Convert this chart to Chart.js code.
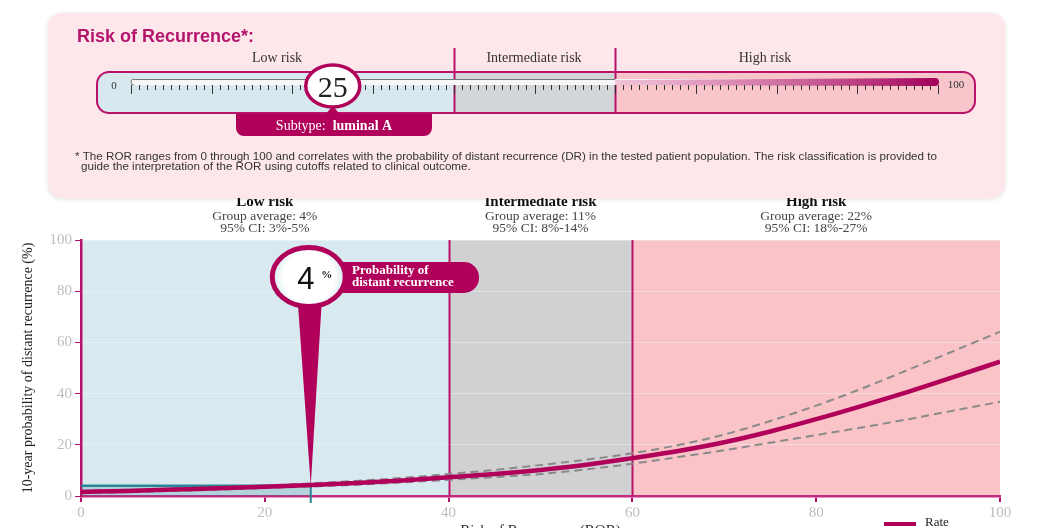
<!DOCTYPE html>
<html>
<head>
<meta charset="utf-8">
<script src="https://cdn.jsdelivr.net/npm/chart.js@4.4.1/dist/chart.umd.min.js"></script>
<style>
  html, body { margin: 0; padding: 0; background: #ffffff; }
  #wrap { width: 1041px; height: 528px; position: relative; }
</style>
</head>
<body>
<div id="wrap"><canvas id="c" width="1041" height="528"></canvas></div>
<script>
// ---------- data ----------
const rorGrid    = [0, 5, 10, 15, 20, 25, 30, 35, 40, 45, 50, 55, 60, 65, 70, 75, 80, 85, 90, 95, 100];
const rateValues = [1.6, 2.0, 2.5, 3.0, 3.6, 4.3, 5.1, 6.1, 7.3, 8.6, 10.2, 12.2, 14.8, 17.6, 21.0, 25.2, 30.0, 35.2, 40.7, 46.5, 52.5];
const upperCI    = [2.0, 2.4, 2.9, 3.4, 4.1, 4.9, 5.9, 7.1, 8.6, 10.2, 12.1, 14.2, 16.7, 19.9, 24.0, 29.3, 35.3, 42.0, 49.3, 56.7, 64.2];
const lowerCI    = [1.1, 1.5, 2.0, 2.5, 3.1, 3.7, 4.4, 5.3, 6.3, 7.4, 8.6, 10.4, 12.6, 15.2, 17.9, 20.8, 23.8, 26.8, 30.0, 33.4, 36.8];
const riskCutoffs = [0, 40, 60, 100];
const riskGroups  = ['Low risk', 'Intermediate risk', 'High risk'];
const groupAverages = ['Group average: 4%', 'Group average: 11%', 'Group average: 22%'];
const groupCIs      = ['95% CI: 3%-5%', '95% CI: 8%-14%', '95% CI: 18%-27%'];
const xTicks = [0, 20, 40, 60, 80, 100];
const yTicks = [0, 20, 40, 60, 80, 100];
const patientROR  = 25;
const patientProb = 4;
const subtypeName = 'luminal A';
const seriesName  = 'Rate';

// ---------- styles ----------
const MAG = '#b0005a';
const FRAME = '#b8126a';
const regionFill = ['#d9e9f0', '#d1d1d3', '#f9c3c7'];
const rulerFill  = ['#d7e8ee', '#d3d6d9', '#f8c5ca'];
const SERIF = '"Liberation Serif", "DejaVu Serif", serif';
const SANS  = '"Liberation Sans", Arial, sans-serif';

function pts(vals) { return rorGrid.map((x, i) => ({ x: x, y: vals[i] })); }

function rr(ctx, x, y, w, h, r) {
  ctx.beginPath();
  ctx.moveTo(x + r, y);
  ctx.lineTo(x + w - r, y);
  ctx.arcTo(x + w, y, x + w, y + r, r);
  ctx.lineTo(x + w, y + h - r);
  ctx.arcTo(x + w, y + h, x + w - r, y + h, r);
  ctx.lineTo(x + r, y + h);
  ctx.arcTo(x, y + h, x, y + h - r, r);
  ctx.lineTo(x, y + r);
  ctx.arcTo(x, y, x + r, y, r);
  ctx.closePath();
}

const decor = {
  id: 'decor',
  beforeDraw(chart) {
    const { ctx, chartArea: a, scales: { x, y } } = chart;
    ctx.save();
    for (let i = 0; i < riskGroups.length; i++) {
      const x0 = x.getPixelForValue(riskCutoffs[i]);
      const x1 = x.getPixelForValue(riskCutoffs[i + 1]);
      ctx.fillStyle = regionFill[i];
      ctx.fillRect(x0, a.top, x1 - x0, a.bottom - a.top);
      const cx = (x0 + x1) / 2;
      ctx.textAlign = 'center';
      ctx.textBaseline = 'middle';
      ctx.fillStyle = '#111';
      ctx.font = 'bold 15px ' + SERIF;
      ctx.fillText(riskGroups[i], cx, 202);
      ctx.fillStyle = '#444';
      ctx.font = '13.5px ' + SERIF;
      ctx.fillText(groupAverages[i], cx, 216);
      ctx.fillText(groupCIs[i], cx, 228);
    }
    ctx.restore();
  },
  beforeDatasetsDraw(chart) {
    const { ctx, chartArea: a, scales: { x, y } } = chart;
    ctx.save();
    ctx.strokeStyle = FRAME;
    ctx.lineWidth = 2;
    [riskCutoffs[1], riskCutoffs[2]].forEach(v => {
      const px = Math.round(x.getPixelForValue(v)) + 0.5;
      ctx.beginPath(); ctx.moveTo(px, a.top); ctx.lineTo(px, a.bottom); ctx.stroke();
    });
    const px = x.getPixelForValue(patientROR);
    const py = y.getPixelForValue(patientProb);
    ctx.fillStyle = 'rgba(40,130,150,0.22)';
    ctx.fillRect(a.left, py, px - a.left, a.bottom - py);
    ctx.strokeStyle = '#2a8596';
    ctx.lineWidth = 2.5;
    ctx.beginPath(); ctx.moveTo(a.left, py); ctx.lineTo(px, py); ctx.stroke();
    ctx.lineWidth = 2;
    ctx.beginPath(); ctx.moveTo(px, py); ctx.lineTo(px, a.bottom + 7); ctx.stroke();
    ctx.restore();
  },
  afterDatasetsDraw(chart) {
    const { ctx, chartArea: a, scales: { x, y } } = chart;
    const tipX = x.getPixelForValue(patientROR);
    const tipY = y.getPixelForValue(patientProb);
    const cx = tipX - 2, cy = 277, rx = 39, ry = 32;
    ctx.save();
    ctx.fillStyle = MAG;
    rr(ctx, cx + 20, 262, 479 - (cx + 20), 31, 15);
    ctx.fill();
    ctx.fillStyle = '#ffffff';
    ctx.font = 'bold 13px ' + SERIF;
    ctx.textAlign = 'left';
    ctx.textBaseline = 'middle';
    ctx.fillText('Probability of', 352, 271);
    ctx.fillText('distant recurrence', 352, 283);
    ctx.fillStyle = MAG;
    ctx.beginPath();
    ctx.moveTo(cx - 11, cy + 24);
    ctx.lineTo(cx + 13, cy + 24);
    ctx.lineTo(tipX, tipY);
    ctx.closePath();
    ctx.fill();
    const g = ctx.createRadialGradient(cx, cy, 5, cx, cy, rx);
    g.addColorStop(0, '#ffffff');
    g.addColorStop(0.6, '#ffffff');
    g.addColorStop(1, '#c9e2ea');
    ctx.beginPath();
    ctx.ellipse(cx, cy, rx - 2.5, ry - 2.5, 0, 0, Math.PI * 2);
    ctx.fillStyle = g;
    ctx.fill();
    ctx.lineWidth = 5;
    ctx.strokeStyle = MAG;
    ctx.stroke();
    ctx.fillStyle = '#111';
    ctx.font = '31px ' + SANS;
    ctx.textAlign = 'center';
    ctx.textBaseline = 'alphabetic';
    ctx.fillText(String(patientProb), cx - 3, cy + 12);
    ctx.font = 'bold 11px ' + SERIF;
    ctx.fillText('%', cx + 18, cy + 1);
    ctx.restore();
  },
  afterDraw(chart) {
    const { ctx, chartArea: a, scales: { x } } = chart;
    ctx.save();
    ctx.fillStyle = '#333';
    ctx.font = '15px ' + SERIF;
    ctx.textAlign = 'center';
    ctx.textBaseline = 'top';
    ctx.fillText('Risk of Recurrence (ROR)', (a.left + a.right) / 2, 524);
    ctx.strokeStyle = MAG;
    ctx.lineWidth = 4;
    ctx.beginPath(); ctx.moveTo(884, 524); ctx.lineTo(916, 524); ctx.stroke();
    ctx.fillStyle = '#222';
    ctx.font = '13px ' + SERIF;
    ctx.textAlign = 'left';
    ctx.textBaseline = 'middle';
    ctx.fillText(seriesName, 925, 523);

    // ---------- top panel ----------
    ctx.shadowColor = 'rgba(0,0,0,0.12)';
    ctx.shadowBlur = 5;
    ctx.shadowOffsetY = 1;
    ctx.fillStyle = '#fde7ea';
    rr(ctx, 48, 13, 957, 185, 14);
    ctx.fill();
    ctx.shadowColor = 'transparent';
    ctx.shadowBlur = 0;
    ctx.shadowOffsetY = 0;

    ctx.fillStyle = '#b3146c';
    ctx.font = 'bold 18px ' + SANS;
    ctx.textAlign = 'left';
    ctx.textBaseline = 'alphabetic';
    ctx.fillText('Risk of Recurrence*:', 77, 42);

    const r0 = 131, r1 = 938;
    const rx = v => r0 + (r1 - r0) * v / 100;
    const bx = 97, by = 72, bw = 878, bh = 41;
    ctx.save();
    rr(ctx, bx, by, bw, bh, 12);
    ctx.clip();
    const edges = [bx, rx(riskCutoffs[1]), rx(riskCutoffs[2]), bx + bw];
    for (let i = 0; i < 3; i++) {
      ctx.fillStyle = rulerFill[i];
      ctx.fillRect(edges[i], by, edges[i + 1] - edges[i], bh);
    }
    ctx.restore();
    ctx.strokeStyle = FRAME;
    ctx.lineWidth = 2;
    rr(ctx, bx, by, bw, bh, 12);
    ctx.stroke();
    [riskCutoffs[1], riskCutoffs[2]].forEach(v => {
      const px = Math.round(rx(v)) + 0.5;
      ctx.beginPath(); ctx.moveTo(px, 48); ctx.lineTo(px, by + bh); ctx.stroke();
    });
    ctx.fillStyle = '#333';
    ctx.font = '14px ' + SERIF;
    ctx.textAlign = 'center';
    ctx.textBaseline = 'middle';
    const labelX = [277, 534, 765];
    for (let i = 0; i < 3; i++) ctx.fillText(riskGroups[i], labelX[i], 58);
    const tTop = 79, tBot = 85;
    ctx.fillStyle = '#f7f7f7';
    ctx.beginPath();
    ctx.moveTo(r0 + 3, tTop);
    ctx.lineTo(r1, tTop);
    ctx.lineTo(r1, tBot);
    ctx.lineTo(r0 + 3, tBot);
    ctx.arc(r0 + 3, (tTop + tBot) / 2, 3, Math.PI / 2, Math.PI * 1.5);
    ctx.closePath();
    ctx.fill();
    const gg = ctx.createLinearGradient(rx(riskCutoffs[2]), 0, r1, 0);
    gg.addColorStop(0, 'rgba(235,160,195,0.6)');
    gg.addColorStop(1, '#a3005a');
    ctx.fillStyle = gg;
    ctx.beginPath();
    ctx.moveTo(rx(riskCutoffs[2]), tTop + 1);
    ctx.lineTo(r1 - 3, tTop - 1);
    ctx.arc(r1 - 3, (tTop + tBot) / 2, 4, -Math.PI / 2, Math.PI / 2);
    ctx.lineTo(rx(riskCutoffs[2]), tBot);
    ctx.closePath();
    ctx.fill();
    ctx.strokeStyle = '#777';
    ctx.lineWidth = 1;
    ctx.beginPath();
    ctx.moveTo(r0 + 3, tTop + 0.5);
    ctx.lineTo(rx(riskCutoffs[2]), tTop + 0.5);
    ctx.stroke();
    ctx.beginPath();
    ctx.arc(r0 + 3, (tTop + tBot) / 2, 3, Math.PI / 2, Math.PI * 1.5);
    ctx.stroke();
    ctx.strokeStyle = '#333';
    for (let v = 0; v <= 100; v++) {
      const px = Math.round(rx(v)) + 0.5;
      const len = (v % 10 === 0) ? 9 : 5;
      ctx.beginPath(); ctx.moveTo(px, tBot); ctx.lineTo(px, tBot + len); ctx.stroke();
    }
    ctx.fillStyle = '#333';
    ctx.font = '11px ' + SERIF;
    ctx.textAlign = 'center';
    ctx.fillText('0', 114, 86);
    ctx.fillText('100', 956, 85);

    const pcx = rx(patientROR);
    ctx.fillStyle = MAG;
    ctx.beginPath();
    ctx.moveTo(236, 114);
    ctx.lineTo(pcx - 7, 114);
    ctx.lineTo(pcx, 106);
    ctx.lineTo(pcx + 7, 114);
    ctx.lineTo(432, 114);
    ctx.lineTo(432, 128);
    ctx.arcTo(432, 136, 424, 136, 8);
    ctx.lineTo(244, 136);
    ctx.arcTo(236, 136, 236, 128, 8);
    ctx.closePath();
    ctx.fill();
    ctx.fillStyle = '#ffffff';
    ctx.textBaseline = 'middle';
    ctx.textAlign = 'left';
    const s1 = 'Subtype:  ';
    ctx.font = 'bold 14px ' + SERIF;
    const w2 = ctx.measureText(subtypeName).width;
    ctx.font = '14px ' + SERIF;
    const w1 = ctx.measureText(s1).width;
    const sx = (236 + 432) / 2 - (w1 + w2) / 2;
    ctx.fillText(s1, sx, 126);
    ctx.font = 'bold 14px ' + SERIF;
    ctx.fillText(subtypeName, sx + w1, 126);

    ctx.beginPath();
    ctx.ellipse(pcx, 86, 27, 21, 0, 0, Math.PI * 2);
    ctx.fillStyle = '#ffffff';
    ctx.fill();
    ctx.lineWidth = 3.5;
    ctx.strokeStyle = MAG;
    ctx.stroke();
    ctx.fillStyle = '#222';
    ctx.font = '30px ' + SERIF;
    ctx.textAlign = 'center';
    ctx.textBaseline = 'alphabetic';
    ctx.fillText(String(patientROR), pcx, 97);

    // footnote
    ctx.fillStyle = '#333';
    ctx.textAlign = 'left';
    ctx.textBaseline = 'middle';
    const foot1 = '* The ROR ranges from 0 through 100 and correlates with the probability of distant recurrence (DR) in the tested patient population. The risk classification is provided to';
    const foot2 = 'guide the interpretation of the ROR using cutoffs related to clinical outcome.';
    ctx.font = '10px ' + SANS;
    const fw = ctx.measureText(foot1).width;
    const k = 862 / fw;
    ctx.save();
    ctx.translate(75, 157);
    ctx.scale(k, 1);
    ctx.fillText(foot1, 0, 0);
    ctx.fillText(foot2, 6 / k, 10);
    ctx.restore();
    ctx.restore();
  }
};

new Chart(document.getElementById('c'), {
  type: 'line',
  data: {
    datasets: [
      { label: seriesName, data: pts(rateValues), borderColor: MAG, borderWidth: 4.5,
        pointRadius: 0, cubicInterpolationMode: 'monotone', order: 1 },
      { label: 'Upper 95% CI', data: pts(upperCI), borderColor: '#8a8a8a', borderWidth: 2,
        borderDash: [8, 5], pointRadius: 0, cubicInterpolationMode: 'monotone', order: 2 },
      { label: 'Lower 95% CI', data: pts(lowerCI), borderColor: '#8a8a8a', borderWidth: 2,
        borderDash: [8, 5], pointRadius: 0, cubicInterpolationMode: 'monotone', order: 3 }
    ]
  },
  options: {
    responsive: false,
    animation: false,
    layout: { padding: { left: 16, top: 240, right: 41, bottom: 0 } },
    plugins: { legend: { display: false }, tooltip: { enabled: false } },
    scales: {
      x: {
        type: 'linear', min: 0, max: 100,
        afterBuildTicks: s => { s.ticks = xTicks.map(v => ({ value: v })); },
        afterFit: s => { s.height = 32; },
        ticks: { color: '#bdbdbd', font: { family: 'Liberation Serif', size: 15 }, padding: 2, maxRotation: 0 },
        grid: { drawOnChartArea: false, tickColor: FRAME, tickLength: 6, lineWidth: 2 },
        border: { color: '#c52a7f', width: 2.5 }
      },
      y: {
        type: 'linear', min: 0, max: 100,
        afterBuildTicks: s => { s.ticks = yTicks.map(v => ({ value: v })); },
        afterFit: s => { s.width = 65; },
        ticks: { color: '#bdbdbd', font: { family: 'Liberation Serif', size: 15 }, padding: 3 },
        grid: { color: 'rgba(255,255,255,0.35)', tickColor: FRAME, tickLength: 6, lineWidth: 1 },
        border: { color: FRAME, width: 2.5 },
        title: { display: true, text: '10-year probability of distant recurrence (%)', color: '#222',
                 font: { family: 'Liberation Serif', size: 14 }, padding: { top: 4, bottom: 4 } }
      }
    }
  },
  plugins: [decor]
});
</script>
</body>
</html>
